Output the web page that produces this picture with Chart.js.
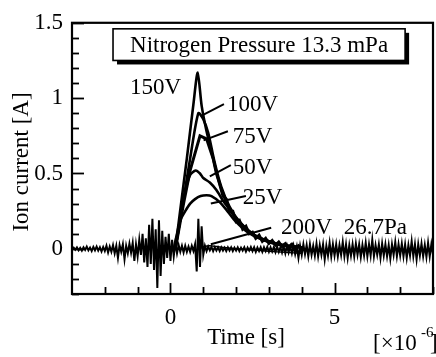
<!DOCTYPE html>
<html>
<head>
<meta charset="utf-8">
<script src="https://cdn.jsdelivr.net/npm/chart.js@4"></script>
<style>
  html, body { margin: 0; padding: 0; background: #fff; }
  #c { display: block; }
</style>
</head>
<body>
<canvas id="c" width="436" height="357"></canvas>
<script>
// time in microseconds, current in A
const noiseT = [
  -3, -2.95, -2.9, -2.85, -2.8, -2.75, -2.7, -2.65, -2.6, -2.55, -2.5, -2.45, -2.4, -2.35, -2.3, -2.25, -2.2, -2.15, -2.1, -2.05,
  -2, -1.95, -1.9, -1.85, -1.8, -1.75, -1.7, -1.65, -1.6, -1.55, -1.5, -1.45, -1.4, -1.35, -1.3, -1.25, -1.2, -1.15, -1.1, -1.05,
  -1, -0.95, -0.9, -0.85, -0.8, -0.75, -0.7, -0.65, -0.6, -0.55, -0.5, -0.45, -0.4, -0.35, -0.3, -0.25, -0.2, -0.15, -0.1, -0.05,
  0, 0.05, 0.1, 0.15, 0.2, 0.25, 0.3, 0.35, 0.4, 0.45, 0.5, 0.55, 0.6, 0.65, 0.7, 0.75, 0.8, 0.85, 0.9, 0.95,
  1, 1.05, 1.1, 1.15, 1.2, 1.25, 1.3, 1.35, 1.4, 1.45, 1.5, 1.55, 1.6, 1.65, 1.7, 1.75, 1.8, 1.85, 1.9, 1.95,
  2, 2.05, 2.1, 2.15, 2.2, 2.25, 2.3, 2.35, 2.4, 2.45, 2.5, 2.55, 2.6, 2.65, 2.7, 2.75, 2.8, 2.85, 2.9, 2.95,
  3, 3.05, 3.1, 3.15, 3.2, 3.25, 3.3, 3.35, 3.4, 3.45, 3.5, 3.55, 3.6, 3.65, 3.7, 3.75, 3.8, 3.85, 3.9, 3.95,
  4, 4.05, 4.1, 4.15, 4.2, 4.25, 4.3, 4.35, 4.4, 4.45, 4.5, 4.55, 4.6, 4.65, 4.7, 4.75, 4.8, 4.85, 4.9, 4.95,
  5, 5.05, 5.1, 5.15, 5.2, 5.25, 5.3, 5.35, 5.4, 5.45, 5.5, 5.55, 5.6, 5.65, 5.7, 5.75, 5.8, 5.85, 5.9, 5.95,
  6, 6.05, 6.1, 6.15, 6.2, 6.25, 6.3, 6.35, 6.4, 6.45, 6.5, 6.55, 6.6, 6.65, 6.7, 6.75, 6.8, 6.85, 6.9, 6.95,
  7, 7.05, 7.1, 7.15, 7.2, 7.25, 7.3, 7.35, 7.4, 7.45, 7.5, 7.55, 7.6, 7.65, 7.7, 7.75, 7.8, 7.85, 7.9, 7.95,
  8
];
const noiseV = [
  0, 0.008, -0.006, 0.01, -0.01, 0.006, -0.012, 0.01, -0.008, 0.014, -0.01, 0.008, -0.015, 0.012, -0.01, 0.015, -0.012, 0.01, -0.018, 0.012,
  -0.015, 0.02, -0.025, 0.015, -0.02, 0.025, -0.03, 0.02, -0.06, 0.025, -0.02, 0.03, -0.07, 0.02, -0.03, 0.035, -0.025, 0.04, -0.08, 0.03,
  -0.05, 0.06, -0.04, 0.1, -0.09, 0.07, -0.12, 0.16, -0.1, 0.2, -0.14, 0.13, -0.26, 0.19, -0.18, 0.12, -0.1, 0.08, -0.06, 0.1,
  -0.08, 0.06, -0.05, 0.04, -0.03, 0.025, -0.02, 0.02, -0.025, 0.02, -0.02, 0.015, -0.02, 0.02, -0.015, 0.03, -0.15, 0.2, -0.12, 0.15,
  -0.04, 0.02, -0.015, 0.015, -0.01, 0.012, -0.015, 0.01, -0.012, 0.01, -0.015, 0.01, -0.012, 0.008, -0.015, 0.01, -0.012, 0.01, -0.015, 0.008,
  -0.012, 0.01, -0.015, 0.008, -0.012, 0.01, -0.018, 0.008, -0.012, 0.012, -0.015, 0.01, -0.02, 0.008, -0.015, 0.01, -0.02, 0.01, -0.015, 0.012,
  -0.02, 0.01, -0.018, 0.012, -0.022, 0.015, -0.02, 0.01, -0.025, 0.015, -0.03, 0.02, -0.025, 0.015, -0.03, 0.02, -0.035, 0.015, -0.06, 0.02,
  -0.04, 0.03, -0.035, 0.025, -0.05, 0.03, -0.04, 0.02, -0.045, 0.035, -0.05, 0.025, -0.04, 0.03, -0.07, 0.02, -0.045, 0.04, -0.05, 0.03,
  -0.045, 0.03, -0.05, 0.025, -0.04, 0.045, -0.05, 0.03, -0.06, 0.025, -0.045, 0.03, -0.05, 0.035, -0.04, 0.03, -0.055, 0.025, -0.045, 0.04,
  -0.05, 0.03, -0.045, 0.06, -0.05, 0.025, -0.04, 0.03, -0.06, 0.035, -0.045, 0.03, -0.05, 0.025, -0.065, 0.03, -0.04, 0.045, -0.05, 0.03,
  -0.045, 0.035, -0.05, 0.03, -0.06, 0.025, -0.045, 0.05, -0.05, 0.03, -0.07, 0.03, -0.045, 0.035, -0.05, 0.025, -0.055, 0.04, -0.05, 0.03,
  -0.04
];

const v150T = [0.15, 0.3, 0.5, 0.7, 0.83, 0.95, 1.1, 1.3, 1.5, 1.8, 2.1, 2.5, 3.0, 3.5, 4.0];
const v150V = [0, 0.26, 0.6, 0.96, 1.17, 0.95, 0.78, 0.6, 0.43, 0.27, 0.18, 0.1, 0.05, 0.02, 0.01];

const v100T = [0.15, 0.4, 0.6, 0.85, 1.0, 1.15, 1.35, 1.55, 1.8, 2.1, 2.5, 3.0, 3.5, 4.0];
const v100V = [0, 0.33, 0.6, 0.9, 0.86, 0.77, 0.57, 0.41, 0.28, 0.18, 0.1, 0.05, 0.02, 0.01];

const v75T = [0.15, 0.4, 0.6, 0.9, 1.1, 1.3, 1.4, 1.5, 1.6, 1.7, 1.8, 1.9, 2.0, 2.1, 2.2, 2.3, 2.4,
  2.5, 2.6, 2.7, 2.8, 2.9, 3.0, 3.1, 3.2, 3.3, 3.4, 3.5, 3.6, 3.7, 3.8, 3.9, 4.0];
const v75V = [0, 0.3, 0.52, 0.75, 0.73, 0.6, 0.5, 0.43, 0.35, 0.33, 0.25, 0.25, 0.18, 0.19, 0.13, 0.15, 0.1,
  0.11, 0.07, 0.09, 0.05, 0.07, 0.035, 0.055, 0.025, 0.045, 0.015, 0.035, 0.01, 0.03, 0.0, 0.02, 0.0];

const v50T = [0.15, 0.3, 0.45, 0.6, 0.77, 0.9, 1.0, 1.2, 1.4, 1.6, 1.8, 2.0, 2.4, 3.0, 3.5, 4.0];
const v50V = [0, 0.2, 0.38, 0.49, 0.52, 0.5, 0.47, 0.44, 0.39, 0.32, 0.26, 0.2, 0.11, 0.045, 0.02, 0.01];

const v25T = [0.1, 0.2, 0.3, 0.45, 0.6, 0.75, 0.92, 1.1, 1.25, 1.5, 1.7, 1.95, 2.35, 2.8, 3.3, 4.0];
const v25V = [0, 0.1, 0.19, 0.25, 0.3, 0.33, 0.35, 0.355, 0.35, 0.31, 0.26, 0.19, 0.11, 0.06, 0.03, 0.01];

const v200T = [0.9, 1.0, 1.2, 1.5, 2.0, 2.5, 3.0, 3.5, 4.0];
const v200V = [0, 0.012, 0.02, 0.012, 0.0, -0.008, -0.016, -0.024, -0.03];

const xTicks = [0, 5];
const yTicks = [0, 0.5, 1, 1.5];

// curve labels: text, label anchor (t, I), leader from (lx, ly) to (ex, ey)
const labels = [
  { text: '150V', x: -1.23, y: 1.07 },
  { text: '100V', x: 1.72, y: 0.955, lx: 1.63, ly: 0.96, ex: 0.92, ey: 0.88 },
  { text: '75V', x: 1.9, y: 0.74, lx: 1.75, ly: 0.78, ex: 1.01, ey: 0.72 },
  { text: '50V', x: 1.9, y: 0.535, lx: 1.84, ly: 0.555, ex: 1.2, ey: 0.48 },
  { text: '25V', x: 2.2, y: 0.34, lx: 2.3, ly: 0.35, ex: 1.23, ey: 0.3 },
  { text: '200V  26.7Pa', x: 3.37, y: 0.14, lx: 3.07, ly: 0.14, ex: 1.23, ey: 0.03 }
];

const serif = "'Liberation Serif', 'DejaVu Serif', serif";

function pts(t, v) { return t.map((x, i) => ({ x: x, y: v[i] })); }

const line = (t, v, w) => ({
  data: pts(t, v), borderColor: '#000', borderWidth: w, pointRadius: 0, tension: 0.25, fill: false
});

const decor = {
  id: 'decor',
  afterDatasetsDraw(chart) {
    const ctx = chart.ctx, a = chart.chartArea;
    const xs = chart.scales.x, ys = chart.scales.y;
    ctx.save();
    ctx.strokeStyle = '#000';
    ctx.fillStyle = '#000';

    // inward ticks
    ctx.lineWidth = 1.8;
    for (let k = -3; k <= 15; k++) {
      const py = Math.round(ys.getPixelForValue(k / 10)) + 0.5;
      const len = (k % 5 === 0) ? 12 : 7;
      ctx.beginPath(); ctx.moveTo(a.left, py); ctx.lineTo(a.left + len, py); ctx.stroke();
    }
    for (let t = -2; t <= 8; t++) {
      const px = Math.round(xs.getPixelForValue(t)) + 0.5;
      const len = (t % 5 === 0) ? 11 : 7;
      ctx.beginPath(); ctx.moveTo(px, a.bottom); ctx.lineTo(px, a.bottom - len); ctx.stroke();
    }

    // frame
    ctx.lineWidth = 2.2;
    ctx.strokeRect(a.left, a.top, a.right - a.left, a.bottom - a.top);

    // title box with shadow
    const bx = xs.getPixelForValue(-1.75), by = ys.getPixelForValue(1.46);
    const bw = xs.getPixelForValue(7.15) - bx, bh = ys.getPixelForValue(1.25) - by;
    ctx.fillRect(bx + 4, by + 4, bw, bh);
    ctx.fillStyle = '#fff';
    ctx.fillRect(bx, by, bw, bh);
    ctx.lineWidth = 1.6;
    ctx.strokeRect(bx, by, bw, bh);
    ctx.fillStyle = '#000';
    ctx.font = '23px ' + serif;
    ctx.textAlign = 'center';
    ctx.textBaseline = 'middle';
    ctx.fillText('Nitrogen Pressure 13.3 mPa', bx + bw / 2, by + bh / 2 + 1);

    // curve labels and leaders
    ctx.textAlign = 'left';
    ctx.lineWidth = 2;
    labels.forEach(l => {
      ctx.fillText(l.text, xs.getPixelForValue(l.x), ys.getPixelForValue(l.y));
      if (l.lx !== undefined) {
        ctx.beginPath();
        ctx.moveTo(xs.getPixelForValue(l.lx), ys.getPixelForValue(l.ly));
        ctx.lineTo(xs.getPixelForValue(l.ex), ys.getPixelForValue(l.ey));
        ctx.stroke();
      }
    });

    // axis titles
    ctx.textAlign = 'center';
    ctx.fillText('Time [s]', 246, 338);
    ctx.save();
    ctx.translate(22, 162);
    ctx.rotate(-Math.PI / 2);
    ctx.fillText('Ion current [A]', 0, 0);
    ctx.restore();

    ctx.textAlign = 'left';
    ctx.fillText('[\u00d710', 373, 344);
    ctx.font = '15px ' + serif;
    ctx.fillText('-6', 421, 333);
    ctx.font = '23px ' + serif;
    ctx.fillText(']', 430, 344);
    ctx.restore();
  }
};

new Chart(document.getElementById('c'), {
  type: 'line',
  data: {
    datasets: [
      Object.assign(line(noiseT, noiseV, 2), { tension: 0 }),
      line(v200T, v200V, 1.4),
      line(v25T, v25V, 2.6),
      line(v50T, v50V, 2.6),
      Object.assign(line(v75T, v75V, 3), { tension: 0 }),
      line(v100T, v100V, 2.6),
      line(v150T, v150V, 2.6)
    ]
  },
  options: {
    responsive: false,
    animation: false,
    events: [],
    layout: { padding: { top: 18, right: 3, left: 0, bottom: 0 } },
    plugins: { legend: { display: false }, tooltip: { enabled: false } },
    scales: {
      x: {
        type: 'linear', min: -3, max: 8,
        grid: { display: false, drawTicks: false, tickLength: 0 }, border: { display: false },
        afterFit(s) { s.height = 63; },
        afterBuildTicks(s) { s.ticks = xTicks.map(v => ({ value: v })); },
        ticks: { color: '#000', padding: 10, maxRotation: 0, font: { family: serif, size: 23 },
          callback: v => String(v) }
      },
      y: {
        type: 'linear', min: -0.3, max: 1.5,
        grid: { display: false, drawTicks: false, tickLength: 0 }, border: { display: false },
        afterFit(s) { s.width = 72; },
        afterBuildTicks(s) { s.ticks = yTicks.map(v => ({ value: v })); },
        ticks: { color: '#000', padding: 9, font: { family: serif, size: 23 },
          callback: v => String(v) }
      }
    }
  },
  plugins: [decor]
});
</script>
</body>
</html>
